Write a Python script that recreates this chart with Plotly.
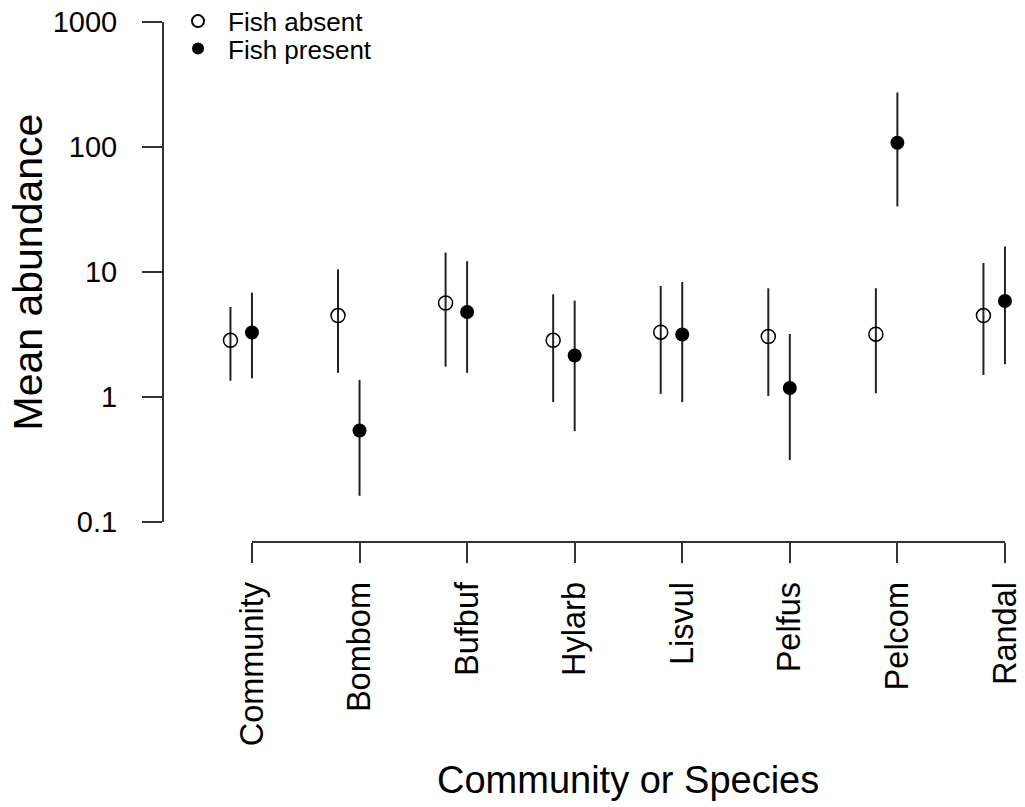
import plotly.graph_objects as go

categories = ["Community", "Bombom", "Bufbuf", "Hylarb", "Lisvul", "Pelfus", "Pelcom", "Randal"]

absent_mean = [2.84, 4.48, 5.65, 2.84, 3.30, 3.05, 3.18, 4.48]
absent_low = [1.35, 1.56, 1.75, 0.91, 1.06, 1.02, 1.07, 1.50]
absent_high = [5.25, 10.5, 14.3, 6.63, 7.73, 7.41, 7.41, 11.8]

present_mean = [3.28, 0.54, 4.79, 2.15, 3.16, 1.18, 108.0, 5.86]
present_low = [1.41, 0.162, 1.56, 0.533, 0.91, 0.313, 33.5, 1.83]
present_high = [6.84, 1.37, 12.2, 5.91, 8.32, 3.19, 273.0, 16.0]

y_tickvals = [0.1, 1, 10, 100, 1000]
y_ticktext = ["0.1", "1", "10", "100", "1000"]

FONT = "Liberation Sans, Arial, sans-serif"
offset = 0.2
pos = list(range(len(categories)))

fig = go.Figure()

fig.add_trace(go.Scatter(
    x=[p - offset for p in pos], y=absent_mean, mode="markers", name="Fish absent",
    marker=dict(symbol="circle-open", size=14, color="black", line=dict(width=1.5, color="black")),
    error_y=dict(type="data", symmetric=False,
                 array=[h - m for h, m in zip(absent_high, absent_mean)],
                 arrayminus=[m - l for m, l in zip(absent_mean, absent_low)],
                 width=0, thickness=2, color="#222"),
    legend="legend", showlegend=True,
))
fig.add_trace(go.Scatter(
    x=pos, y=present_mean, mode="markers", name="Fish present",
    marker=dict(symbol="circle", size=14, color="black"),
    error_y=dict(type="data", symmetric=False,
                 array=[h - m for h, m in zip(present_high, present_mean)],
                 arrayminus=[m - l for m, l in zip(present_mean, present_low)],
                 width=0, thickness=2, color="#222"),
    legend="legend2", showlegend=True,
))

# axis lines spanning only the tick range (R style)
fig.add_shape(type="line", xref="paper", yref="y", x0=0, x1=0,
              y0=y_tickvals[0], y1=y_tickvals[-1], line=dict(color="#333", width=2))
fig.add_shape(type="line", xref="x", yref="paper", x0=pos[0], x1=pos[-1],
              y0=0, y1=0, line=dict(color="#333", width=2))

W, H = 1025, 807
L, R, T, B = 163, 3, 2, 265
pw = W - L - R
ph = H - T - B
x0 = -0.827
ppu = 107.57
x1 = x0 + pw / ppu

leg_common = dict(xanchor="left", yanchor="top", itemwidth=50,
                  font=dict(size=26, family=FONT, color="black"),
                  bgcolor="rgba(0,0,0,0)", itemsizing="constant")

fig.update_layout(
    width=W, height=H,
    margin=dict(l=L, r=R, t=T, b=B, autoexpand=False),
    paper_bgcolor="white", plot_bgcolor="white",
    font=dict(family=FONT, color="black"),
    showlegend=True,
    xaxis=dict(range=[x0, x1], tickvals=pos, ticktext=categories, tickangle=-90,
               ticks="outside", ticklen=20, tickwidth=2, tickcolor="#333",
               showgrid=False, zeroline=False, showline=False,
               tickfont=dict(size=32.5, family=FONT, color="black"), ticklabelstandoff=6),
    yaxis=dict(type="log", range=[-1.16, 3.16], tickvals=y_tickvals, ticktext=y_ticktext,
               ticks="outside", ticklen=20, tickwidth=2, tickcolor="#333",
               showgrid=False, zeroline=False, showline=False,
               tickfont=dict(size=29, family=FONT, color="black"), ticklabelstandoff=19),
    legend=dict(x=(168 - L) / pw, y=1 - (-2.3 - T) / ph, **leg_common),
    legend2=dict(x=(168 - L) / pw, y=1 - (25 - T) / ph, **leg_common),
    annotations=[
        dict(text="Mean abundance", xref="paper", yref="paper", x=(27.5 - L) / pw, y=0.5,
             xanchor="center", yanchor="middle", textangle=-90, showarrow=False,
             font=dict(size=41, family=FONT, color="black")),
        dict(text="Community or Species", xref="paper", yref="paper", x=(627.5 - L) / pw,
             y=-(780 - (H - B)) / ph, xanchor="center", yanchor="middle",
             showarrow=False, font=dict(size=38, family=FONT, color="black")),
    ],
)

fig.write_html("out.html")
